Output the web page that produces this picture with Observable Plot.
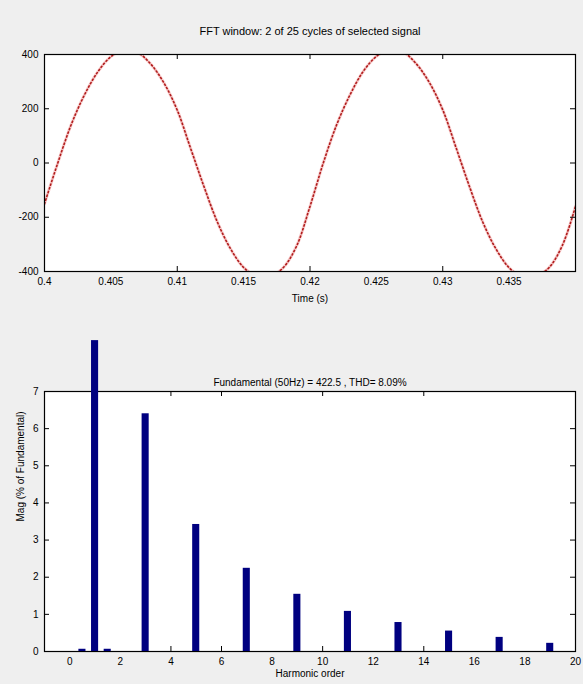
<!DOCTYPE html>
<html><head><meta charset="utf-8">
<script src="https://cdn.jsdelivr.net/npm/d3@7"></script>
<script src="https://cdn.jsdelivr.net/npm/@observablehq/plot@0.6"></script>
<style>
html,body{margin:0;padding:0;background:#efefef;}
#chart{width:583px;height:684px;overflow:hidden;}
#chart svg{display:block;}
</style></head><body><div id="chart"></div>
<script>
// ---- top panel: selected signal ----
const topTitle = "FFT window: 2 of 25 cycles of selected signal";
const timeLabel = "Time (s)";
const timeS = [0.400,0.401,0.402,0.403,0.404,0.405,0.406,0.407,0.408,0.409,0.410,
               0.411,0.412,0.413,0.414,0.415,0.416,0.417,0.418,0.419,0.420,
               0.421,0.422,0.423,0.424,0.425,0.426,0.427,0.428,0.429,0.430,
               0.431,0.432,0.433,0.434,0.435,0.436,0.437,0.438,0.439,0.440];
const signal = [-150,0,140,250,335,392,418,408,365,295,195,
                55,-85,-215,-315,-385,-418,-418,-385,-305,-160,
                0,140,250,337,393,420,410,366,296,196,
                57,-85,-216,-316,-386,-420,-418,-386,-305,-160];
const timeTicks = [0.4,0.405,0.41,0.415,0.42,0.425,0.43,0.435];
const timeTickLabels = ["0.4","0.405","0.41","0.415","0.42","0.425","0.43","0.435"];
const timeTickMarks = [0.41,0.42,0.43];
const sigTicks = [-400,-200,0,200,400];

// ---- bottom panel: harmonic spectrum ----
const bottomTitle = "Fundamental (50Hz) = 422.5 , THD= 8.09%";
const harmLabel = "Harmonic order";
const magLabel = "Mag (% of Fundamental)";
const harmOrder = [0.5,1,1.5,3,5,7,9,11,13,15,17,19];
const harmMag   = [0.06,8.37,0.06,6.4,3.42,2.24,1.54,1.08,0.78,0.55,0.38,0.22];
const harmTicks = [0,2,4,6,8,10,12,14,16,18,20];
const harmTickMarks = [4,6,10,14];
const magTicks = [0,1,2,3,4,5,6,7];

const W = 583;
const font = {fontFamily: "'Liberation Sans', Arial, sans-serif", fontSize: "10px", background: "transparent", overflow: "visible"};
const barHalf = 0.14;
const TICK = 5;

// top
const tML = 44, tMR = 8, tMT = 54, tMB = 59, tH = 330;
const tFW = W - tML - tMR, tFH = tH - tMT - tMB;
const sig = timeS.map((t, i) => ({t, v: signal[i]}));
const topChart = Plot.plot({
  width: W, height: tH,
  marginLeft: tML, marginRight: tMR, marginTop: tMT, marginBottom: tMB,
  style: font,
  x: {domain: [0.4, 0.44]},
  y: {domain: [-400, 400]},
  marks: [
    Plot.frame({fill: "white", stroke: null}),
    Plot.line(sig, {x: "t", y: "v", stroke: "#f7cccc", strokeWidth: 3, curve: "catmull-rom", clip: true}),
    Plot.line(sig, {x: "t", y: "v", stroke: "#b01c1c", strokeWidth: 1.6, strokeDasharray: "1.3 2.6", curve: "catmull-rom", clip: true}),
    Plot.ruleX(timeTickMarks, {x: d => d, insetBottom: tFH - TICK, stroke: "black"}),
    Plot.ruleX(timeTickMarks, {x: d => d, insetTop: tFH - TICK, stroke: "black"}),
    Plot.ruleY(sigTicks, {y: d => d, insetRight: tFW - TICK, stroke: "black"}),
    Plot.ruleY(sigTicks, {y: d => d, insetLeft: tFW - TICK, stroke: "black"}),
    Plot.frame({stroke: "black", strokeWidth: 1.2}),
    Plot.axisX(timeTicks, {tickSize: 0, tickPadding: 6, tickFormat: (d, i) => timeTickLabels[i], label: null, fill: "black"}),
    Plot.axisY(sigTicks, {tickSize: 0, tickPadding: 6, tickFormat: d => String(d), label: null, fill: "black"}),
    Plot.text([topTitle], {frameAnchor: "top", dy: -27, fontSize: 11, fill: "black"}),
    Plot.text([timeLabel], {frameAnchor: "bottom", dy: 30, fontSize: 10, fill: "black"})
  ]
});

// bottom
const bML = 44, bMR = 8, bMT = 61, bMB = 33, bH = 354;
const bFW = W - bML - bMR, bFH = bH - bMT - bMB;
const harm = harmOrder.map((h, i) => ({h, m: harmMag[i]}));
const bottomChart = Plot.plot({
  width: W, height: bH,
  marginLeft: bML, marginRight: bMR, marginTop: bMT, marginBottom: bMB,
  style: font,
  x: {domain: [-1, 20]},
  y: {domain: [0, 7]},
  marks: [
    Plot.frame({fill: "white", stroke: null}),
    Plot.ruleX(harmTickMarks, {x: d => d, insetBottom: bFH - TICK, stroke: "black"}),
    Plot.ruleX(harmTickMarks, {x: d => d, insetTop: bFH - TICK, stroke: "black"}),
    Plot.ruleY(magTicks, {y: d => d, insetRight: bFW - TICK, stroke: "black"}),
    Plot.ruleY(magTicks, {y: d => d, insetLeft: bFW - TICK, stroke: "black"}),
    Plot.frame({stroke: "black", strokeWidth: 1.2}),
    Plot.rectY(harm, {x1: d => d.h - barHalf, x2: d => d.h + barHalf, y1: 0, y2: "m", fill: "#000080"}),
    Plot.axisX(harmTicks, {tickSize: 0, tickPadding: 6, label: null, fill: "black"}),
    Plot.axisY(magTicks, {tickSize: 0, tickPadding: 6, label: null, fill: "black"}),
    Plot.text([bottomTitle], {frameAnchor: "top", dy: -13, fontSize: 10, fill: "black"}),
    Plot.text([harmLabel], {frameAnchor: "bottom", dy: 25, fontSize: 10, fill: "black"}),
    Plot.text([magLabel], {frameAnchor: "left", dx: -24, rotate: -90, fontSize: 10, fill: "black"})
  ]
});

const el = document.getElementById("chart");
el.appendChild(topChart);
el.appendChild(bottomChart);
</script>
</body></html>
